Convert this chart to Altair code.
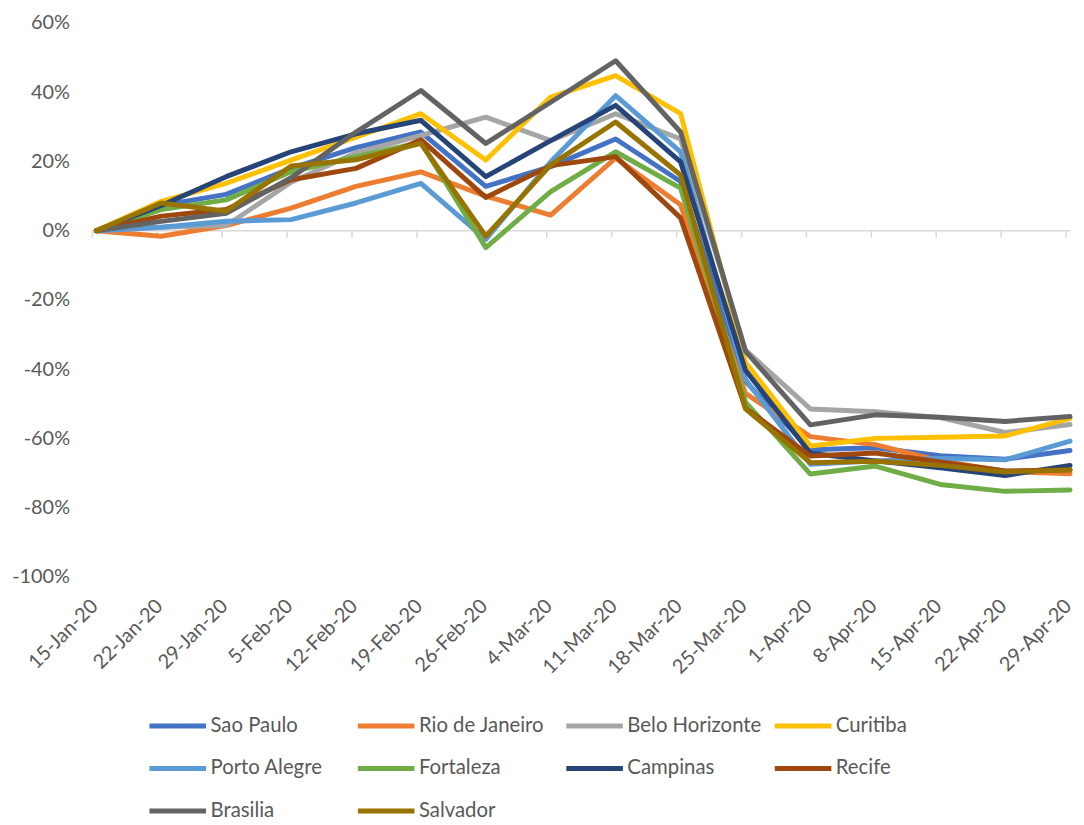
import altair as alt
import pandas as pd

dates = ["15-Jan-20", "22-Jan-20", "29-Jan-20", "5-Feb-20", "12-Feb-20", "19-Feb-20",
         "26-Feb-20", "4-Mar-20", "11-Mar-20", "18-Mar-20", "25-Mar-20", "1-Apr-20",
         "8-Apr-20", "15-Apr-20", "22-Apr-20", "29-Apr-20"]

cities = ["Sao Paulo", "Rio de Janeiro", "Belo Horizonte", "Curitiba", "Porto Alegre",
          "Fortaleza", "Campinas", "Recife", "Brasilia", "Salvador"]

colors = ["#4472C4", "#ED7D31", "#A5A5A5", "#FFC000", "#5B9BD5",
          "#70AD47", "#264478", "#9E480E", "#636363", "#997300"]

sao_paulo = [0, 7.3, 10.5, 18.0, 24.0, 28.5, 12.8, 18.5, 26.5, 14.2, -43.5, -63.3, -62.7, -65.0, -66.0, -63.5]
rio = [0, -1.6, 1.5, 6.5, 12.8, 17.0, 10.0, 4.5, 21.0, 7.5, -47.0, -59.5, -61.8, -66.5, -69.5, -70.2]
belo = [0, 1.0, 1.5, 14.0, 22.5, 27.5, 32.8, 26.0, 33.8, 26.5, -34.5, -51.5, -52.3, -54.0, -58.3, -56.0]
curitiba = [0, 8.5, 13.7, 20.4, 27.0, 33.8, 20.4, 38.6, 44.8, 33.8, -38.0, -62.2, -60.0, -59.7, -59.3, -54.2]
porto = [0, 1.0, 2.7, 3.2, 8.0, 13.7, -2.5, 19.9, 39.0, 22.8, -43.0, -67.5, -66.5, -65.8, -66.2, -60.8]
fortaleza = [0, 6.1, 8.9, 17.0, 21.4, 25.5, -4.9, 11.3, 22.8, 12.3, -49.5, -70.3, -68.0, -73.3, -75.3, -74.9]
campinas = [0, 7.3, 15.6, 22.8, 28.0, 31.9, 15.6, 26.0, 36.2, 19.9, -40.3, -64.3, -66.5, -68.5, -70.7, -67.8]
recife = [0, 4.2, 6.1, 14.7, 18.0, 26.3, 9.6, 18.8, 21.4, 3.7, -51.3, -65.1, -64.2, -66.8, -69.4, -69.1]
brasilia = [0, 2.7, 5.0, 15.3, 28.5, 40.5, 25.2, 37.1, 49.1, 28.5, -34.8, -56.1, -53.2, -53.9, -55.1, -53.7]
salvador = [0, 8.0, 5.6, 18.7, 20.5, 25.2, -1.6, 19.0, 31.4, 16.1, -51.5, -67.0, -66.6, -67.8, -69.7, -69.1]

series = [sao_paulo, rio, belo, curitiba, porto, fortaleza, campinas, recife, brasilia, salvador]

rows = []
for ci, (city, vals) in enumerate(zip(cities, series)):
    for di, (d, v) in enumerate(zip(dates, vals)):
        rows.append({"City": city, "Date": d, "Value": v, "ci": ci, "di": di})
df = pd.DataFrame(rows)
ticks_df = pd.DataFrame({"Date": dates})

FONT = "Lato"
TXT = "#595959"

x_enc = alt.X("Date:O", sort=dates, scale=alt.Scale(type="point", padding=0),
              axis=alt.Axis(title=None, labelAngle=-45, labelAlign="right", labelBaseline="middle",
                            labelPadding=26, labelOffset=-2, ticks=False, tickSize=0, domain=False,
                            grid=False, labelFont=FONT, labelFontSize=20, labelColor=TXT))
y_scale = alt.Scale(domain=[-100, 60], nice=False, zero=False)

lines = alt.Chart(df).mark_line(strokeWidth=5, strokeCap="round", strokeJoin="round").encode(
    x=x_enc,
    y=alt.Y("Value:Q", scale=y_scale,
            axis=alt.Axis(title=None, values=list(range(-100, 61, 20)), labelExpr="datum.value + '%'",
                          ticks=False, tickSize=0, domain=False, grid=False, labelPadding=27,
                          labelFont=FONT, labelFontSize=20, labelColor=TXT)),
    color=alt.Color("City:N", sort=cities, scale=alt.Scale(domain=cities, range=colors),
                    legend=alt.Legend(orient="none", legendX=51, legendY=677, direction="horizontal",
                                      columns=4, title=None, symbolType="stroke", symbolSize=3249,
                                      symbolStrokeWidth=5, labelFont=FONT, labelFontSize=20.5,
                                      labelColor=TXT, gridAlign="all", columnPadding=2,
                                      rowPadding=1, labelOffset=2, padding=0)),
    detail="City:N",
    order=alt.Order("di:Q"),
)

zero_rule = alt.Chart(ticks_df).mark_rule(color="#D9D9D9", strokeWidth=1.5).encode(
    y=alt.Y("z:Q", scale=y_scale)
).transform_calculate(z="0").transform_filter("datum.Date == '15-Jan-20'")

tick_marks = alt.Chart(ticks_df).mark_rule(color="#D9D9D9", strokeWidth=1.5, xOffset=-4, y2Offset=7).encode(
    x=alt.X("Date:O", sort=dates),
    y=alt.Y("z:Q", scale=y_scale),
    y2="z:Q",
).transform_calculate(z="0")

chart = alt.layer(zero_rule, tick_marks, lines).properties(
    width=981, height=558,
    autosize=alt.AutoSizeParams(type="none"),
    padding={"left": 89, "top": 12, "right": 6, "bottom": 260},
).configure_view(stroke=None)

chart.save("out.html", embed_options={"renderer": "svg", "actions": False})
